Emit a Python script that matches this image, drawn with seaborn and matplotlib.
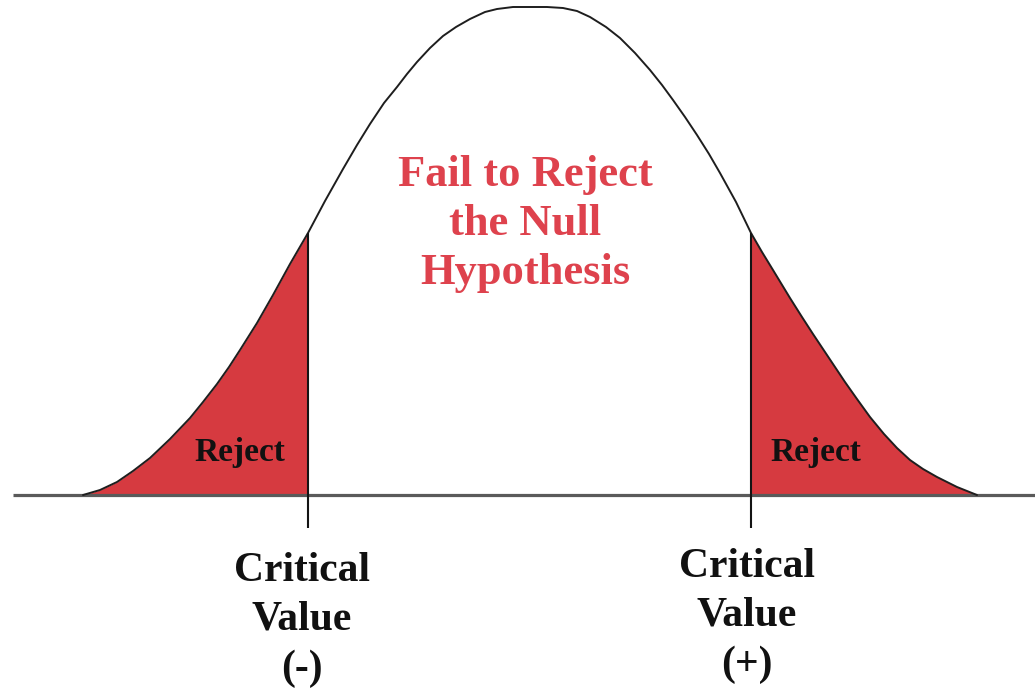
import numpy as np
import pandas as pd
import matplotlib
matplotlib.use('Agg')
import matplotlib.pyplot as plt
import seaborn as sns

# curve: x position and height above the baseline
curve_x = [83, 100, 117, 133, 150, 170, 190, 203, 217, 229, 240, 257, 273, 290, 308, 325, 343, 357, 370, 384,
           397, 407, 417, 430, 443, 456, 470, 485, 497, 513, 530, 547, 563, 577, 590, 606, 620, 635, 650, 662,
           673, 685, 697, 709, 720, 736, 751, 762, 773, 790, 802, 813, 833, 845, 857, 870, 884, 897, 910,
           923, 937, 957, 977]
curve_h = [0, 5, 13, 24, 37, 56, 77, 93, 111, 128, 145, 172, 200, 231, 262, 294, 326, 350, 371, 392,
           408, 421, 433, 447, 459, 468, 476, 483, 486, 488, 488, 488, 487, 484, 478, 468, 457, 442, 425, 410,
           395, 378, 360, 341, 322, 293, 262, 243, 225, 197, 178, 161, 131, 113, 96, 78, 61, 47, 35,
           26, 18, 8, 0]

crit_lo = 308
crit_hi = 751

middle_lines = ['Fail to Reject', 'the Null', 'Hypothesis']
crit_lo_lines = ['Critical', 'Value', '(-)']
crit_hi_lines = ['Critical', 'Value', '(+)']
reject_label = 'Reject'

red_fill = '#d63a40'
red_text = '#de424d'

sns.set_style('white')
plt.rcParams['font.family'] = ['Liberation Serif', 'DejaVu Serif']

fig = plt.figure(figsize=(10.35, 6.91), dpi=100)
ax = fig.add_axes([0, 0, 1, 1])

df = pd.DataFrame({'x': curve_x, 'h': curve_h})
left = df[df['x'] <= crit_lo]
right = df[df['x'] >= crit_hi]

# rejection regions
ax.fill_between(left['x'], 0, left['h'], color=red_fill, lw=0, zorder=1)
ax.fill_between(right['x'], 0, right['h'], color=red_fill, lw=0, zorder=1)

sns.lineplot(data=df, x='x', y='h', sort=False, color='#1e1e1e', lw=1.4, ax=ax, zorder=3,
             solid_joinstyle='round')

# baseline and critical value ticks
ax.plot([13, 1035], [0, 0], color='#5a5a5a', lw=2.3, zorder=2, solid_capstyle='butt')
h_lo = df.loc[df['x'] == crit_lo, 'h'].iloc[0]
h_hi = df.loc[df['x'] == crit_hi, 'h'].iloc[0]
ax.vlines([crit_lo, crit_hi], -33, [h_lo, h_hi], color='#141414', lw=1.5, zorder=3)

for i, line in enumerate(middle_lines):
    ax.text(525, 320 - i * 49, line, ha='center', va='center', fontsize=32,
            fontweight='bold', color=red_text)

for i, (a, b) in enumerate(zip(crit_lo_lines, crit_hi_lines)):
    ax.text(302, -76 - i * 49, a, ha='center', va='center', fontsize=30,
            fontweight='bold', color='#111111')
    ax.text(747, -72 - i * 49, b, ha='center', va='center', fontsize=30,
            fontweight='bold', color='#111111')

ax.text(240, 43, reject_label, ha='center', va='center', fontsize=24,
        fontweight='bold', color='#111111', zorder=4)
ax.text(816, 42, reject_label, ha='center', va='center', fontsize=24,
        fontweight='bold', color='#111111', zorder=4)

ax.set_xlim(0, 1035)
ax.set_ylim(-196, 495)
ax.axis('off')

fig.savefig('out.png', dpi=100, facecolor='white')
